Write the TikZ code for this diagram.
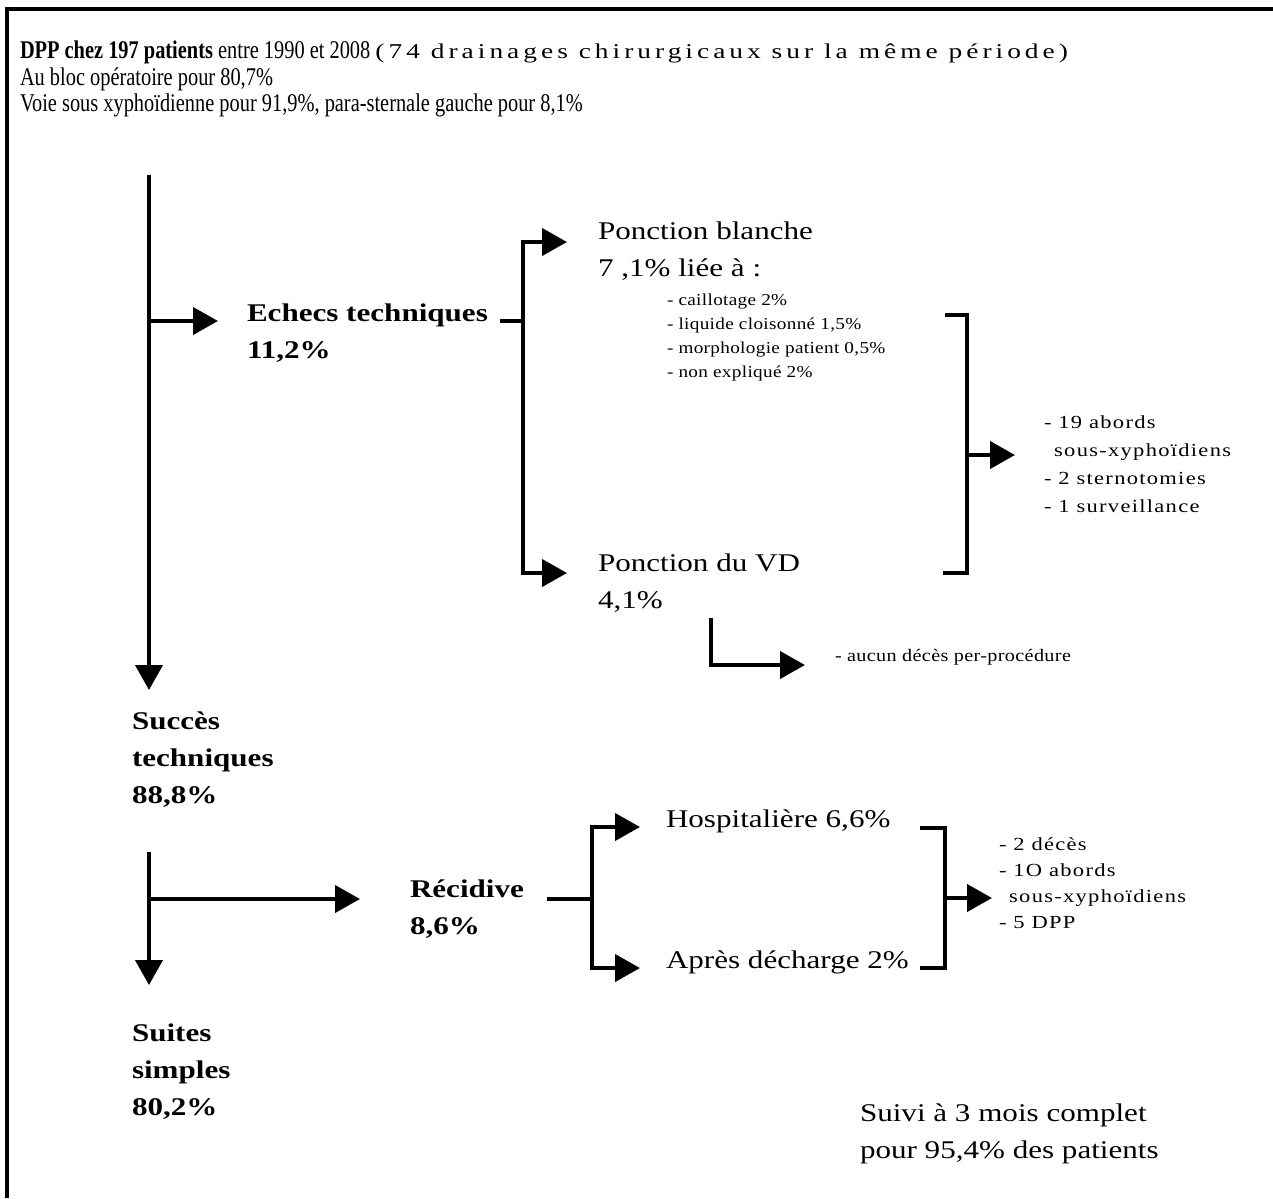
\documentclass[tikz,border=0pt]{standalone}
\usepackage{fontspec}
\setmainfont{Liberation Serif}
\newfontfamily\estrecha{Liberation Serif}[FakeStretch=0.8]
\newfontfamily\ancha{Liberation Serif}[FakeStretch=1.22]
\newfontfamily\anchaesp{Liberation Serif}[FakeStretch=1.15,LetterSpace=2]
\newfontfamily\anchamas{Liberation Serif}[FakeStretch=1.22,LetterSpace=7]
\newfontfamily\anchatit{Liberation Serif}[FakeStretch=1.3,LetterSpace=19]
\usetikzlibrary{arrows.meta}

\begin{document}
\begin{tikzpicture}[  % opciones: una unidad = un pixel de la figura
      x=0.02cm, y=-0.02cm,
      line width=0.08cm,
      flecha/.style={-{Triangle[length=0.5cm,width=0.54cm]}},
      doble/.style={{Triangle[length=0.5cm,width=0.54cm]}-{Triangle[length=0.5cm,width=0.54cm]}},
      cabecera/.style={inner sep=0pt, anchor=north west, align=left,
        font=\estrecha\fontsize{14.5}{15}\selectfont},
      etiqueta/.style={inner sep=0pt, anchor=north west, align=left,
        font=\ancha\fontsize{14.5}{21}\selectfont},
      fuerte/.style={etiqueta, font=\ancha\bfseries\fontsize{14.5}{21}\selectfont},
      lista/.style={inner sep=0pt, anchor=north west, align=left,
        font=\anchaesp\fontsize{9.5}{13.6}\selectfont},
      listagr/.style={lista, font=\anchamas\fontsize{10.5}{15.5}\selectfont}
    ]
    \useasboundingbox (0,0) rectangle (1273,1198);
    %
    % marco
    \draw (7,1198) -- (7,9) -- (1273,9);
    %
    % cabecera
    \node [cabecera] (cab) at (18,39)
      {\textbf{DPP chez 197 patients} entre 1990 et 2008
       {\anchatit\fontsize{12}{12}\selectfont (74 drainages chirurgicaux sur la même période)}\\
       Au bloc opératoire pour 80,7\%\\
       Voie sous xyphoïdienne pour 91,9\%, para-sternale gauche pour 8,1\%};
    %
    % eje principal
    \coordinate (a0) at (149,175);
    \coordinate (a1) at (149,321);
    \coordinate (a2) at (149,690);
    \coordinate (e0) at (218,321);
    \draw[flecha] (a0) -- (a2);
    \draw[flecha] (a1) -- (e0);
    %
    % echecs techniques
    \node [fuerte] (echecs) at (245,302) {Echecs techniques\\11,2\%};
    \coordinate (b0) at (500,321);
    \coordinate (b1) at (523,321);
    \coordinate (b2) at (523,242);
    \coordinate (b3) at (523,573);
    \coordinate (p1) at (567,242);
    \coordinate (p2) at (567,573);
    \draw (b0) -- (b1);
    \draw[doble] (p1) -- (b2) -- (b3) -- (p2);
    %
    % ponction blanche
    \node [etiqueta] (blanche) at (596,220) {Ponction blanche\\7 ,1\% liée à :};
    \node [lista] (causas) at (665,292)
      {- caillotage 2\%\\- liquide cloisonné 1,5\%\\- morphologie patient 0,5\%\\- non expliqué 2\%};
    %
    % llave derecha y conducta
    \coordinate (c0) at (945,315);
    \coordinate (c1) at (967,315);
    \coordinate (c2) at (967,573);
    \coordinate (c3) at (943,573);
    \coordinate (c4) at (967,455);
    \coordinate (c5) at (1015,455);
    \draw (c0) -- (c1) -- (c2) -- (c3);
    \draw[flecha] (c4) -- (c5);
    \node [listagr, font=\anchamas\fontsize{10.5}{15.9}\selectfont] (conducta) at (1042,414)
      {- 19 abords\\\hspace{1.2ex}sous-xyphoïdiens\\- 2 sternotomies\\- 1 surveillance};
    %
    % ponction du VD
    \node [etiqueta] (vd) at (596,552) {Ponction du VD\\4,1\%};
    \coordinate (d0) at (711,618);
    \coordinate (d1) at (711,665);
    \coordinate (d2) at (805,665);
    \draw[flecha] (d0) -- (d1) -- (d2);
    \node [lista, anchor=west, font=\anchaesp\fontsize{10}{12}\selectfont] (deces) at (833,657)
      {- aucun décès per-procédure};
    %
    % succes techniques
    \node [fuerte] (succes) at (130,710) {Succès\\techniques\\88,8\%};
    \coordinate (s0) at (149,852);
    \coordinate (s1) at (149,899);
    \coordinate (s2) at (149,985);
    \coordinate (s3) at (360,899);
    \draw[flecha] (s0) -- (s2);
    \draw[flecha] (s1) -- (s3);
    %
    % recidive
    \node [fuerte] (recidive) at (408,878) {Récidive\\8,6\%};
    \coordinate (r0) at (547,899);
    \coordinate (r1) at (592,899);
    \coordinate (r2) at (592,827);
    \coordinate (r3) at (592,968);
    \coordinate (q1) at (640,827);
    \coordinate (q2) at (640,968);
    \draw (r0) -- (r1);
    \draw[doble] (q1) -- (r2) -- (r3) -- (q2);
    \node [etiqueta, anchor=west] (hosp) at (664,821) {Hospitalière 6,6\%};
    \node [etiqueta, anchor=west] (apres) at (664,962) {Après décharge 2\%};
    %
    % llave de la recidive
    \coordinate (h0) at (920,828);
    \coordinate (h1) at (945,828);
    \coordinate (h2) at (945,968);
    \coordinate (h3) at (920,968);
    \coordinate (h4) at (945,898);
    \coordinate (h5) at (992,898);
    \draw (h0) -- (h1) -- (h2) -- (h3);
    \draw[flecha] (h4) -- (h5);
    \node [listagr, font=\anchamas\fontsize{10.5}{14.7}\selectfont] (evolucion) at (997,836)
      {- 2 décès\\- 1O abords\\\hspace{1.2ex}sous-xyphoïdiens\\- 5 DPP};
    %
    % suites simples
    \node [fuerte] (suites) at (130,1022) {Suites\\simples\\80,2\%};
    %
    % suivi
    \node [etiqueta] (suivi) at (858,1102) {Suivi à 3 mois complet\\pour 95,4\% des patients};
  \end{tikzpicture}
\end{document}
